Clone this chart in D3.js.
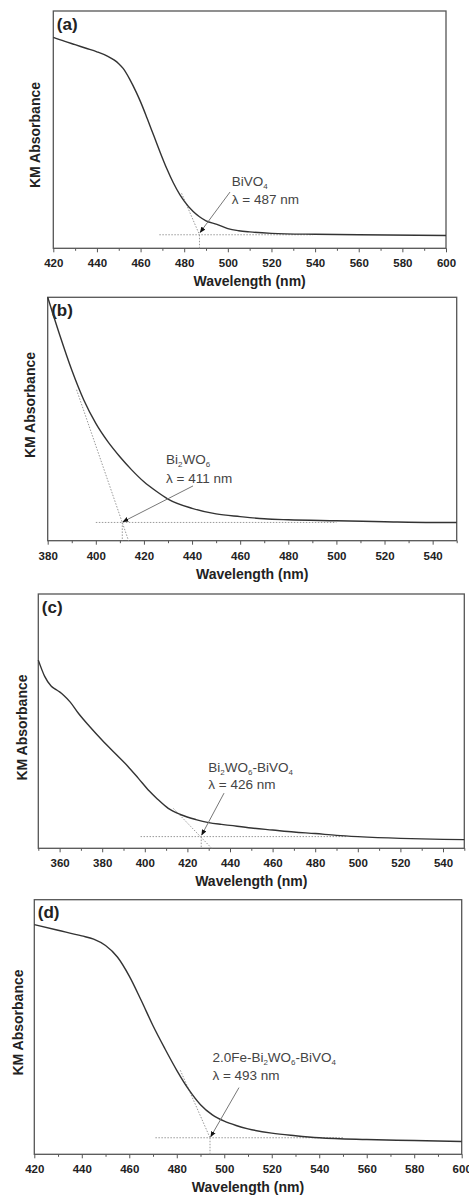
<!DOCTYPE html>
<html>
<head>
<meta charset="utf-8">
<script src="https://cdn.jsdelivr.net/npm/d3@7"></script>
<style>
  body { margin: 0; background: #fff; }
  svg { display: block; font-family: Arial, "Liberation Sans", sans-serif; }
</style>
</head>
<body>
<svg id="chart" width="469" height="1198"></svg>
<script>
// ---- data (KM absorbance in arbitrary units, 0..100 of the frame) ----
const wlA  = [420, 425, 430, 435, 440, 445, 448, 450, 452, 455, 458, 460, 463, 466, 469, 472, 475, 478, 480, 484, 487, 490, 495, 500, 505, 510, 520, 540, 560, 600];
const absA = [88.9, 87.3, 85.8, 84.3, 82.8, 80.9, 79.3, 77.8, 75.8, 71.3, 65.8, 61.7, 54.8, 47.6, 40.4, 33.6, 27.6, 22.6, 19.9, 15.6, 13.3, 11.6, 10.1, 8.3, 7.4, 6.9, 6.3, 5.9, 5.7, 5.4];

const wlB  = [380, 385, 390, 395, 400, 405, 410, 415, 420, 425, 430, 440, 450, 460, 470, 480, 500, 520, 540, 550];
const absB = [100, 84.5, 70.1, 57.8, 48.2, 40.7, 34.5, 29.0, 24.2, 20.4, 17.1, 13.3, 11.0, 9.9, 9.0, 8.6, 8.2, 7.8, 7.5, 7.5];

const wlC  = [350, 353, 356, 358, 360, 362, 365, 369, 374, 380, 386, 392, 397, 402, 406, 411, 417, 424, 430, 436, 440, 450, 460, 470, 480, 490, 500, 520, 540, 550];
const absC = [74.0, 67.6, 63.8, 62.6, 61.5, 60.1, 57.5, 52.9, 48.0, 42.5, 37.4, 32.3, 27.5, 22.6, 19.3, 15.7, 13.2, 11.3, 10.1, 9.4, 9.0, 8.0, 7.2, 6.4, 5.8, 5.1, 4.6, 3.9, 3.5, 3.4];

const wlD  = [420, 430, 440, 445, 450, 455, 460, 465, 470, 475, 480, 485, 490, 495, 500, 505, 510, 520, 530, 540, 560, 580, 600];
const absD = [90.2, 88.0, 85.8, 84.5, 82.0, 77.5, 70.0, 60.5, 50.5, 41.5, 33.0, 25.5, 19.5, 15.5, 13.0, 11.3, 10.0, 8.3, 7.3, 6.5, 5.8, 5.4, 5.0];

// x domains and tick values
const domA = [420, 600], ticksA = d3.range(420, 601, 20);
const domB = [380, 550], ticksB = d3.range(380, 541, 20);
const domC = [350, 550], ticksC = d3.range(360, 541, 20);
const domD = [420, 600], ticksD = d3.range(420, 601, 20);

// band-gap construction lines: tangent, baseline, drop to the axis
const tangentA = [[478.8, 23.2], [487, 5.7]], baseA = [[468.6, 5.7], [539, 5.7]], dropA = [[487, 5.7], [487, 0]];
const tangentB = [[392, 62.0], [413.6, 0]],  baseB = [[400, 7.5], [500, 7.5]],   dropB = [[411, 7.5], [411, 0]];
const tangentC = [[413.4, 15.7], [431.4, 0]], baseC = [[398, 4.6], [495, 4.6]],  dropC = [[426.5, 4.6], [426.5, 0]];
const tangentD = [[481.5, 33.0], [494, 6.5]], baseD = [[471, 6.5], [550, 6.5]],  dropD = [[494, 6.5], [494, 0]];

// annotation arrows (from, to) in data units
const arrowA = [[501, 23.7], [487.3, 6.7]];
const arrowB = [[440.4, 22.5], [411.3, 7.8]];
const arrowC = [[437.2, 21.7], [426.7, 5.2]];
const arrowD = [[506.2, 26.2], [494.3, 6.9]];

// annotation texts: [text, subscript] pieces
const nameA = [["BiVO", ""], ["4", "sub"]];
const nameB = [["Bi", ""], ["2", "sub"], ["WO", ""], ["6", "sub"]];
const nameC = [["Bi", ""], ["2", "sub"], ["WO", ""], ["6", "sub"], ["-BiVO", ""], ["4", "sub"]];
const nameD = [["2.0Fe-Bi", ""], ["2", "sub"], ["WO", ""], ["6", "sub"], ["-BiVO", ""], ["4", "sub"]];
const gapA = "λ = 487 nm", gapB = "λ = 411 nm", gapC = "λ = 426 nm", gapD = "λ = 493 nm";

const panels = [
    { tag: "(a)", wl: wlA, abs: absA, dom: domA, ticks: ticksA, tangent: tangentA, base: baseA, drop: dropA,
      arrow: arrowA, name: nameA, gap: gapA, textAt: [501.8, 26.3], lineGap: 18.5,
      box: { left: 53.3, right: 446, top: 11, bottom: 248.3 }, yTitle: { x: 39.5, y: 135 } },
    { tag: "(b)", wl: wlB, abs: absB, dom: domB, ticks: ticksB, tangent: tangentB, base: baseB, drop: dropB,
      arrow: arrowB, name: nameB, gap: gapB, textAt: [429.2, 31.5], lineGap: 19,
      box: { left: 47.7, right: 456.7, top: 297.3, bottom: 540.7 }, yTitle: { x: 35, y: 405 } },
    { tag: "(c)", wl: wlC, abs: absC, dom: domC, ticks: ticksC, tangent: tangentC, base: baseC, drop: dropC,
      arrow: arrowC, name: nameC, gap: gapC, textAt: [429.8, 30.1], lineGap: 17.6,
      box: { left: 38.3, right: 464.3, top: 594, bottom: 848.3 }, yTitle: { x: 26.5, y: 727.5 } },
    { tag: "(d)", wl: wlD, abs: absD, dom: domD, ticks: ticksD, tangent: tangentD, base: baseD, drop: dropD,
      arrow: arrowD, name: nameD, gap: gapD, textAt: [495, 36.1], lineGap: 17.7,
      box: { left: 34.3, right: 461.7, top: 899.7, bottom: 1154.3 }, yTitle: { x: 22.5, y: 1022.5 } }
];

const svg = d3.select("svg#chart");

svg.append("defs").append("marker")
    .attr("id", "head")
    .attr("viewBox", "0 0 10 10")
    .attr("refX", 9).attr("refY", 5)
    .attr("markerWidth", 6).attr("markerHeight", 6)
    .attr("markerUnits", "userSpaceOnUse")
    .attr("orient", "auto")
    .append("path")
    .attr("d", "M0,1 L10,5 L0,9 Z")
    .style("fill", "#111");

function drawPanel(p) {
    const b = p.box;
    const scX = d3.scaleLinear().domain(p.dom).range([b.left, b.right]);
    const scY = d3.scaleLinear().domain([0, 100]).range([b.bottom, b.top]);
    const g = svg.append("g");

    // minor ticks every 10 nm
    const minor = d3.range(p.dom[0], p.dom[1] + 1, 10).filter(v => v % 20 !== p.ticks[0] % 20);
    g.append("g")
        .attr("transform", `translate(0, ${b.bottom})`)
        .call(d3.axisBottom(scX).tickValues(minor).tickSize(2.5).tickFormat(""))
        .call(ax => ax.select(".domain").remove())
        .selectAll("line").style("stroke", "#555");

    // major ticks and labels
    const axX = g.append("g")
        .attr("transform", `translate(0, ${b.bottom})`)
        .call(d3.axisBottom(scX).tickValues(p.ticks).tickSize(4).tickFormat(d3.format("d")));
    axX.select(".domain").remove();
    axX.selectAll("line").style("stroke", "#555");
    axX.selectAll("text")
        .attr("y", 19).attr("dy", 0)
        .style("font-size", "11.5px").style("font-weight", "bold")
        .style("font-family", "Arial, 'Liberation Sans', sans-serif")
        .style("fill", "#222");

    // frame
    g.append("rect")
        .attr("x", b.left).attr("y", b.top)
        .attr("width", b.right - b.left).attr("height", b.bottom - b.top)
        .style("fill", "none").style("stroke", "#555").style("stroke-width", 1.3);

    // axis titles
    g.append("text")
        .attr("x", (b.left + b.right) / 2).attr("y", b.bottom + 38)
        .attr("text-anchor", "middle")
        .style("font-size", "14px").style("font-weight", "bold").style("fill", "#222")
        .text("Wavelength (nm)");
    g.append("text")
        .attr("transform", `translate(${p.yTitle.x}, ${p.yTitle.y}) rotate(-90)`)
        .attr("text-anchor", "middle")
        .style("font-size", "14px").style("font-weight", "bold").style("fill", "#222")
        .text("KM Absorbance");

    // panel tag
    g.append("text")
        .attr("x", b.left + 3.5).attr("y", b.top + 18.5)
        .style("font-size", "17px").style("font-weight", "bold").style("fill", "#222")
        .text(p.tag);

    const line = d3.line().x(d => scX(d[0])).y(d => scY(d[1]));

    // construction lines
    [p.tangent, p.base, p.drop].forEach(seg => {
        g.append("path")
            .datum(seg)
            .attr("d", line)
            .style("fill", "none").style("stroke", "#999")
            .style("stroke-width", 1).style("stroke-dasharray", "1.5,1.5");
    });

    // spectrum
    const curve = d3.line().curve(d3.curveMonotoneX)
        .x(d => scX(d)).y((d, i) => scY(p.abs[i]));
    g.append("path")
        .datum(p.wl)
        .attr("d", curve)
        .style("fill", "none").style("stroke", "#333").style("stroke-width", 1.4);

    // arrow
    g.append("path")
        .datum(p.arrow)
        .attr("d", line)
        .attr("marker-end", "url(#head)")
        .style("fill", "none").style("stroke", "#777").style("stroke-width", 1);

    // annotation
    const tx = scX(p.textAt[0]), ty = scY(p.textAt[1]);
    const t1 = g.append("text")
        .attr("x", tx).attr("y", ty)
        .style("font-size", "13.5px").style("fill", "#444");
    p.name.forEach((part, i) => {
        const s = t1.append("tspan").text(part[0]);
        if (part[1] === "sub") s.attr("dy", 3).style("font-size", "8px");
        else s.attr("dy", i === 0 ? 0 : -3);
    });
    g.append("text")
        .attr("x", tx).attr("y", ty + p.lineGap)
        .style("font-size", "13.5px").style("fill", "#444")
        .text(p.gap);
}

panels.forEach(drawPanel);
</script>
</body>
</html>
